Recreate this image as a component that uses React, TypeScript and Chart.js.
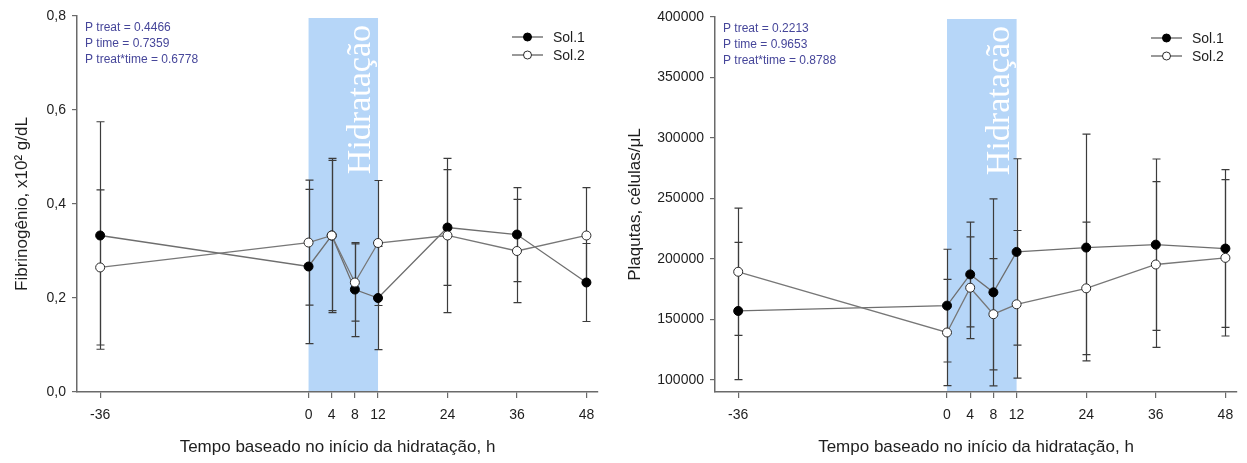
import React, { useEffect, useRef } from 'react';
import { Chart, registerables } from 'chart.js';

Chart.register(...registerables);

// ---------- data ----------
const hours = [-36, 0, 4, 8, 12, 24, 36, 48];
const xTicks = [-36, 0, 4, 8, 12, 24, 36, 48];
const hydrationWindow = [0, 12];
const hydrationLabel = 'Hidratação';
const seriesNames = ['Sol.1', 'Sol.2'];
const xTitle = 'Tempo baseado no início da hidratação, h';

const fibSol1 = [0.333, 0.267, 0.333, 0.218, 0.2, 0.35, 0.335, 0.233];
const fibSol1Err = [0.242, 0.164, 0.164, 0.1, 0.11, 0.123, 0.1, 0.083];
const fibSol2 = [0.265, 0.318, 0.333, 0.233, 0.317, 0.333, 0.3, 0.333];
const fibSol2Err = [0.165, 0.133, 0.16, 0.082, 0.133, 0.164, 0.11, 0.102];
const fibYTicks = [0, 0.2, 0.4, 0.6, 0.8];
const fibNotes = ['P treat = 0.4466', 'P time = 0.7359', 'P treat*time = 0.6778'];
const fibTitle = 'Fibrinogênio, x10² g/dL';

const pltSol1 = [157000, 161400, 187200, 172400, 205800, 209400, 211800, 208600];
const pltSol1Err = [56700, 46600, 43300, 77300, 77000, 93700, 70800, 65200];
const pltSol2 = [189400, 139200, 176200, 154300, 162500, 175700, 195400, 200900];
const pltSol2Err = [52600, 43900, 42000, 46000, 61000, 54800, 68500, 64600];
const pltYTicks = [100000, 150000, 200000, 250000, 300000, 350000, 400000];
const pltNotes = ['P treat = 0.2213', 'P time = 0.9653', 'P treat*time = 0.8788'];
const pltTitle = 'Plaqutas, células/μL';

// ---------- styling ----------
const SANS = '"Liberation Sans", Arial, Helvetica, sans-serif';
const SERIF = '"Liberation Serif", "Times New Roman", serif';
const AXIS = '#6a6a6a';
const TEXT = '#1e1e1e';

const decorPlugin = {
  id: 'decor',
  beforeDatasetsDraw(chart: any, _args: any, opts: any) {
    const { ctx, chartArea: a, scales } = chart;
    const x = scales.x;
    const y = scales.y;
    ctx.save();
    // hydration band
    const x0 = x.getPixelForValue(opts.band[0]);
    const x1 = x.getPixelForValue(opts.band[1]);
    ctx.fillStyle = '#b6d6f8';
    ctx.fillRect(x0, a.top + 2, x1 - x0, a.bottom - a.top - 3);
    // band label
    ctx.save();
    ctx.translate(x1 - 8, a.top + 9);
    ctx.rotate(-Math.PI / 2);
    ctx.font = '34px ' + SERIF;
    ctx.fillStyle = '#ffffff';
    ctx.textAlign = 'right';
    ctx.textBaseline = 'alphabetic';
    ctx.fillText(opts.bandLabel, 0, 0);
    ctx.restore();
    // error bars
    ctx.strokeStyle = '#3c3c3c';
    ctx.lineWidth = 1.2;
    chart.data.datasets.forEach((ds: any) => {
      const errs = ds.errors || [];
      ds.data.forEach((p: any, i: number) => {
        const e = errs[i];
        if (e == null) return;
        const px = Math.round(x.getPixelForValue(p.x)) + 0.5;
        const pt = y.getPixelForValue(p.y + e);
        const pb = y.getPixelForValue(p.y - e);
        ctx.beginPath();
        ctx.moveTo(px, pt);
        ctx.lineTo(px, pb);
        ctx.moveTo(px - 4, pt);
        ctx.lineTo(px + 4, pt);
        ctx.moveTo(px - 4, pb);
        ctx.lineTo(px + 4, pb);
        ctx.stroke();
      });
    });
    ctx.restore();
  },
  afterDraw(chart: any, _args: any, opts: any) {
    const { ctx, chartArea: a } = chart;
    ctx.save();
    // statistics notes
    ctx.font = '12px ' + SANS;
    ctx.fillStyle = '#46469a';
    ctx.textAlign = 'left';
    ctx.textBaseline = 'middle';
    opts.notes.forEach((t: string, i: number) => {
      ctx.fillText(t, a.left + 8, a.top + 12 + i * 16);
    });
    // legend
    const ordered = [...chart.data.datasets].sort((p: any, q: any) => p.legendIndex - q.legendIndex);
    ordered.forEach((ds: any, i: number) => {
      const ly = a.top + 21 + i * 18;
      const lx = a.right - 86;
      ctx.strokeStyle = '#555';
      ctx.lineWidth = 1.2;
      ctx.beginPath();
      ctx.moveTo(lx, ly);
      ctx.lineTo(lx + 31, ly);
      ctx.stroke();
      ctx.beginPath();
      ctx.arc(lx + 15.5, ly, 4, 0, Math.PI * 2);
      ctx.fillStyle = ds.pointBackgroundColor;
      ctx.fill();
      ctx.strokeStyle = ds.pointBorderColor;
      ctx.lineWidth = 1;
      ctx.stroke();
      ctx.fillStyle = TEXT;
      ctx.font = '14px ' + SANS;
      ctx.textBaseline = 'middle';
      ctx.fillText(ds.label, a.right - 45, ly + 1);
    });
    ctx.restore();
  },
};

type PanelProps = {
  left: number;
  width: number;
  yAxisWidth: number;
  yTitlePad: number;
  padTop: number;
  padRight: number;
  yMin: number;
  yMax: number;
  yTicks: number[];
  yFormat: (v: number) => string;
  yTitle: string;
  s1: number[];
  e1: number[];
  s2: number[];
  e2: number[];
  notes: string[];
};

function Panel(props: PanelProps) {
  const ref = useRef<HTMLCanvasElement | null>(null);
  useEffect(() => {
    const canvas = ref.current;
    if (!canvas) return;
    const chart = new Chart(canvas, {
      type: 'line',
      data: {
        datasets: [
          {
            label: seriesNames[1],
            data: hours.map((h, i) => ({ x: h, y: props.s2[i] })),
            errors: props.e2,
            legendIndex: 1,
            order: 0,
            borderColor: '#777777',
            borderWidth: 1.3,
            pointRadius: 4.5,
            pointBackgroundColor: '#ffffff',
            pointBorderColor: '#2a2a2a',
            pointBorderWidth: 1,
            tension: 0,
          } as any,
          {
            label: seriesNames[0],
            data: hours.map((h, i) => ({ x: h, y: props.s1[i] })),
            errors: props.e1,
            legendIndex: 0,
            order: 1,
            borderColor: '#6e6e6e',
            borderWidth: 1.3,
            pointRadius: 4.5,
            pointBackgroundColor: '#000000',
            pointBorderColor: '#000000',
            pointBorderWidth: 1,
            tension: 0,
          } as any,
        ],
      },
      options: {
        responsive: false,
        animation: false,
        layout: { padding: { left: 0, right: props.padRight, top: props.padTop, bottom: 0 } },
        plugins: {
          legend: { display: false },
          tooltip: { enabled: false },
          decor: { band: hydrationWindow, bandLabel: hydrationLabel, notes: props.notes },
        } as any,
        scales: {
          x: {
            type: 'linear',
            min: -40,
            max: 50,
            afterBuildTicks: (axis: any) => {
              axis.ticks = xTicks.map((v) => ({ value: v }));
            },
            afterFit: (s: any) => {
              s.height = 71;
            },
            ticks: {
              callback: (v: any) => String(v),
              font: { family: SANS, size: 14 },
              color: TEXT,
              padding: 9,
              maxRotation: 0,
              autoSkip: false,
            },
            grid: { drawOnChartArea: false, drawTicks: true, tickLength: 6, color: AXIS, lineWidth: 1.2 },
            border: { display: true, color: AXIS, width: 1.5 },
            title: {
              display: true,
              text: xTitle,
              font: { family: SANS, size: 17 },
              color: TEXT,
              padding: { top: 0, bottom: 5 },
            },
          },
          y: {
            type: 'linear',
            min: props.yMin,
            max: props.yMax,
            afterBuildTicks: (axis: any) => {
              axis.ticks = props.yTicks.map((v) => ({ value: v }));
            },
            afterFit: (s: any) => {
              s.width = props.yAxisWidth;
            },
            ticks: {
              callback: (v: any) => props.yFormat(Number(v)),
              font: { family: SANS, size: 14 },
              color: TEXT,
              padding: 6,
              autoSkip: false,
            },
            grid: { drawOnChartArea: false, drawTicks: true, tickLength: 5, color: AXIS, lineWidth: 1.2 },
            border: { display: true, color: AXIS, width: 1.5 },
            title: {
              display: true,
              text: props.yTitle,
              font: { family: SANS, size: 17 },
              color: TEXT,
              padding: { top: props.yTitlePad, bottom: 0 },
            },
          },
        },
      } as any,
      plugins: [decorPlugin as any],
    });
    return () => chart.destroy();
  }, []);
  return (
    <canvas
      ref={ref}
      width={props.width}
      height={463}
      style={{ position: 'absolute', left: props.left, top: 0, width: props.width, height: 463 }}
    />
  );
}

export default function App() {
  return (
    <div style={{ position: 'fixed', left: 0, top: 0, width: 1247, height: 463, background: '#ffffff', overflow: 'hidden' }}>
      <Panel
        left={0}
        width={620}
        yAxisWidth={77}
        yTitlePad={12}
        padTop={16}
        padRight={22}
        yMin={0}
        yMax={0.8}
        yTicks={fibYTicks}
        yFormat={(v) => v.toFixed(1).replace('.', ',')}
        yTitle={fibTitle}
        s1={fibSol1}
        e1={fibSol1Err}
        s2={fibSol2}
        e2={fibSol2Err}
        notes={fibNotes}
      />
      <Panel
        left={620}
        width={627}
        yAxisWidth={95}
        yTitlePad={5}
        padTop={17}
        padRight={10}
        yMin={90000}
        yMax={400000}
        yTicks={pltYTicks}
        yFormat={(v) => String(Math.round(v))}
        yTitle={pltTitle}
        s1={pltSol1}
        e1={pltSol1Err}
        s2={pltSol2}
        e2={pltSol2Err}
        notes={pltNotes}
      />
    </div>
  );
}
